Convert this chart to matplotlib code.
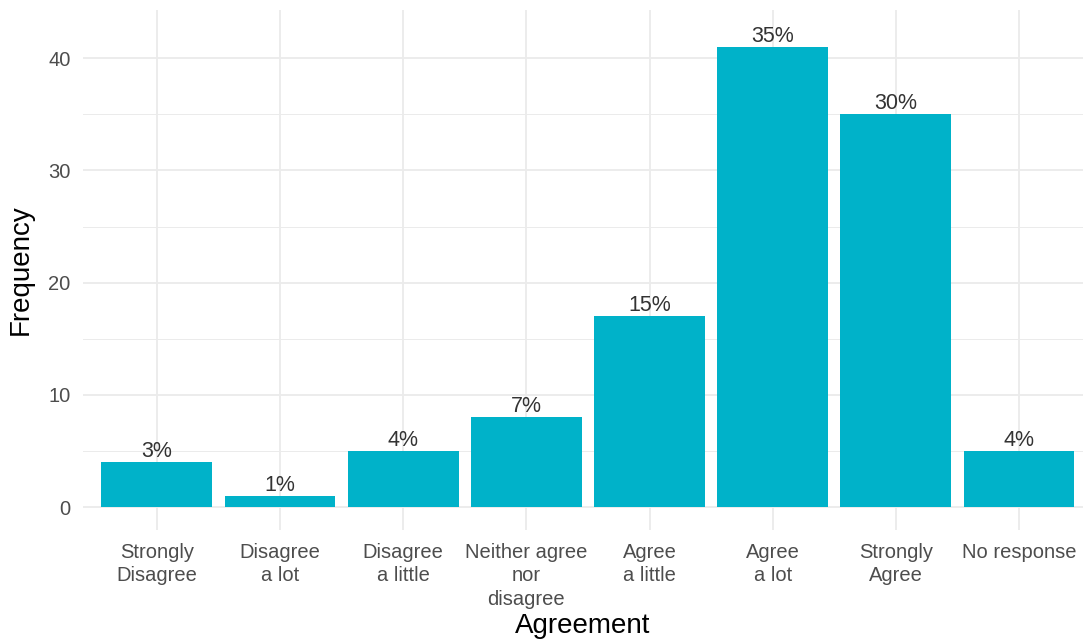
import numpy as np
import matplotlib.pyplot as plt

# -- data ----------------------
categories = ["Strongly\nDisagree", "Disagree\na lot", "Disagree\na little",
              "Neither agree\nnor\ndisagree", "Agree\na little", "Agree\na lot",
              "Strongly\nAgree", "No response"]
counts = [4, 1, 5, 8, 17, 41, 35, 5]

plt.rcParams['font.family'] = ['Liberation Sans', 'DejaVu Sans']

fig = plt.figure(figsize=(10.83, 6.42), dpi=100)
ax = fig.add_axes([83 / 1083, 1 - 530 / 642, 1 - 83 / 1083, 520 / 642])

x = np.arange(1, len(counts) + 1)
total = sum(counts)
ax.bar(x, counts, width=0.9, color='#00B2C9', zorder=3)
for xi, c in zip(x, counts):
    ax.text(xi, c, f"{round(100 * c / total)}%", ha='center', va='bottom',
            fontsize=15.5, color='#333333', zorder=4)

ax.set_xlim(0.4, 8.52)
ax.set_ylim(-2.05, 44.3)
ax.set_xticks(x)
ax.set_xticklabels(categories, fontsize=14.5, color='#4D4D4D', linespacing=1.32)
ax.set_yticks([0, 10, 20, 30, 40])
ax.set_yticks([5, 15, 25, 35], minor=True)
ax.tick_params(axis='y', labelsize=14.5, labelcolor='#4D4D4D', length=0, pad=9)
ax.tick_params(axis='x', length=0, pad=9)
ax.tick_params(which='minor', length=0)

ax.grid(True, which='major', color='#EBEBEB', linewidth=1.3, zorder=0)
ax.grid(True, which='minor', axis='y', color='#EBEBEB', linewidth=0.7, zorder=0)
for s in ax.spines.values():
    s.set_visible(False)

ax.set_xlabel("Agreement", fontsize=20, color='black', labelpad=3)
ax.set_ylabel("Frequency", fontsize=20, color='black', labelpad=10)

fig.savefig('out.png', dpi=100)
